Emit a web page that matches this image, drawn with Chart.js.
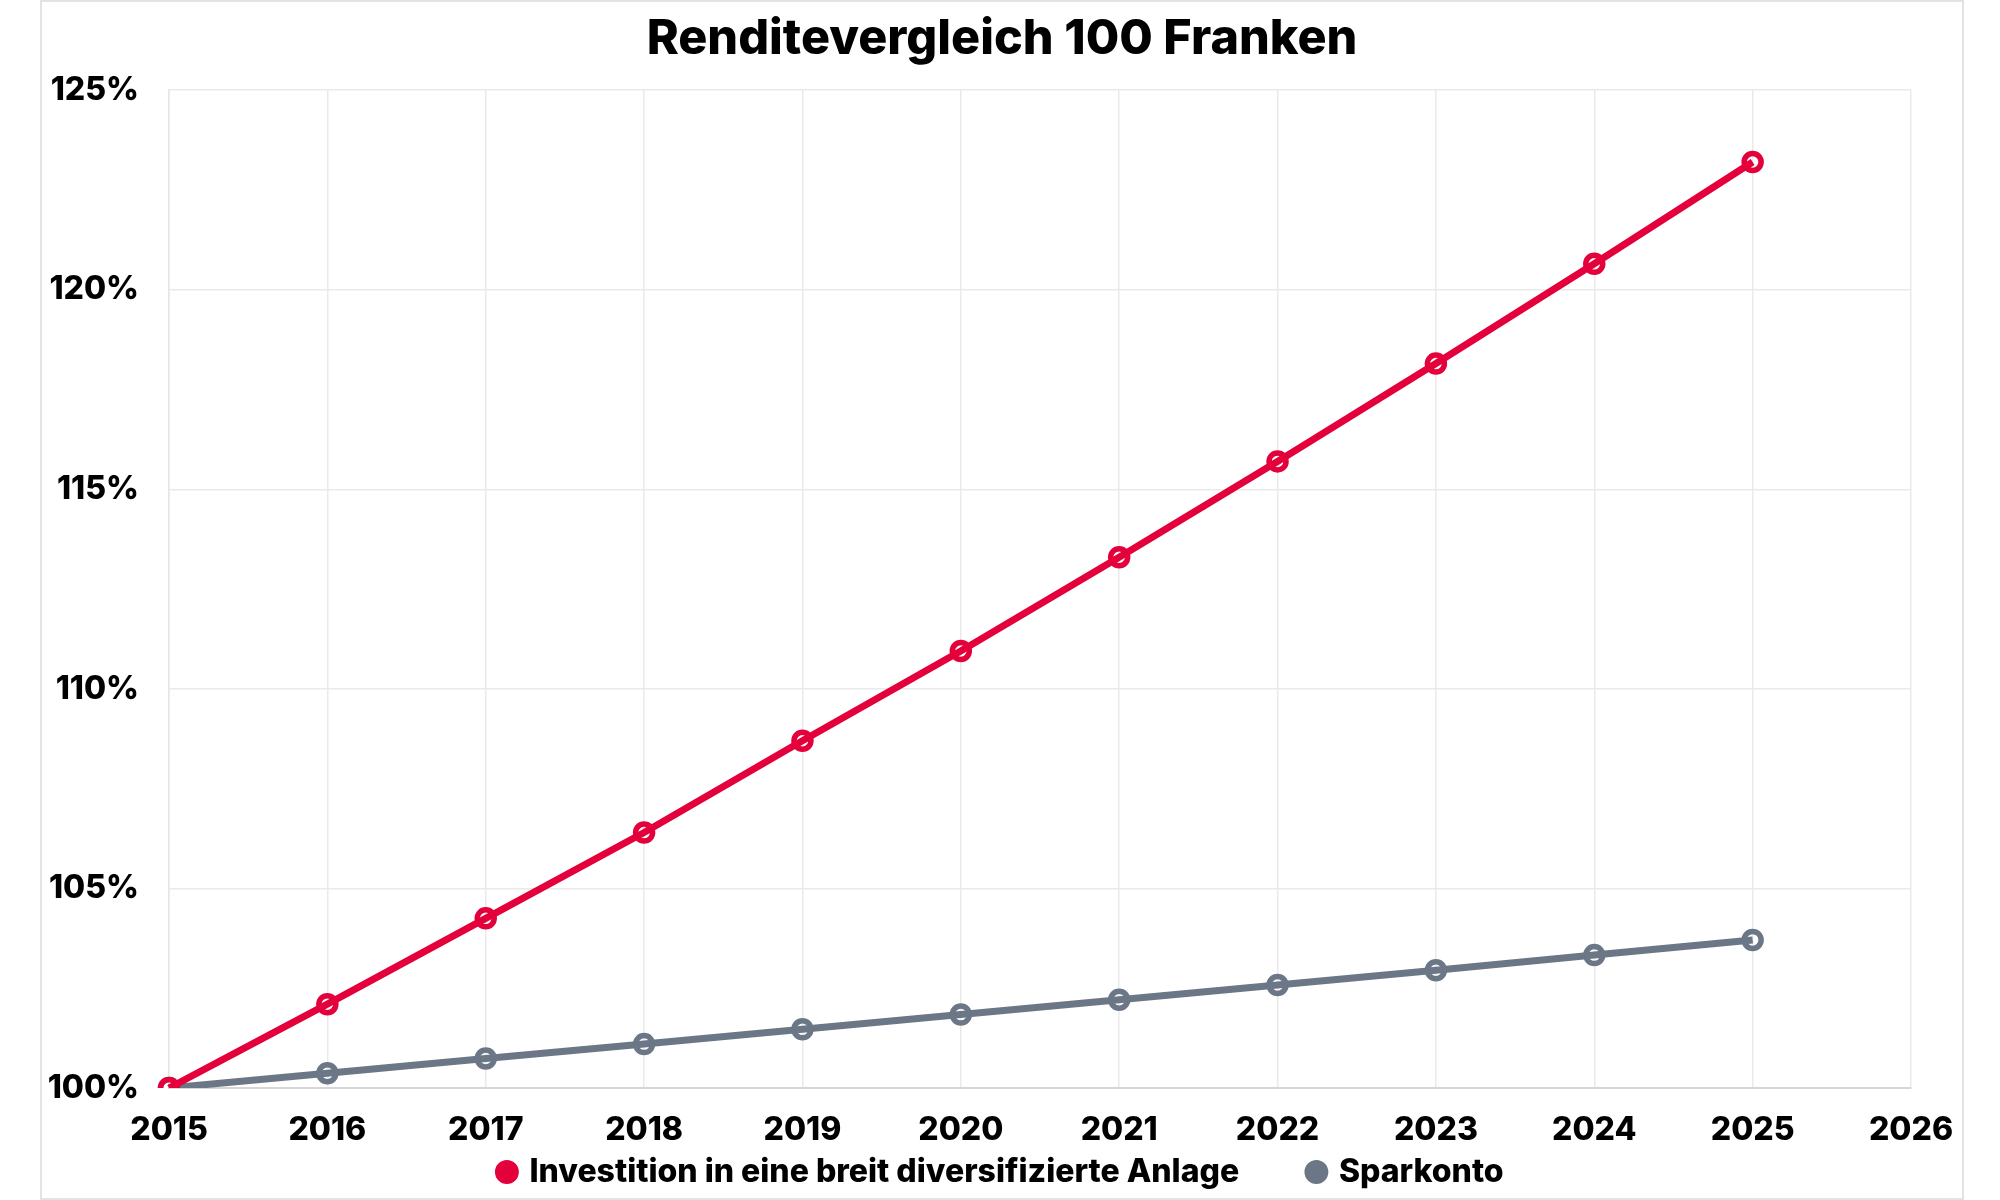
<!DOCTYPE html>
<html>
<head>
<meta charset="utf-8">
<script src="https://cdn.jsdelivr.net/npm/chart.js@4.4.1/dist/chart.umd.min.js"></script>
<style>
    html, body { margin: 0; padding: 0; background: #fff; }
    #frame {
        position: absolute; left: 40px; top: 0px;
        width: 1920px; height: 1196px;
        border: 2px solid #e3e3e3;
    }
    #chart { display: block; }
</style>
</head>
<body>
<div id="frame"><canvas id="chart" width="1920" height="1196"></canvas></div>
<script>
// Chart data
const years = ['2015', '2016', '2017', '2018', '2019', '2020', '2021', '2022', '2023', '2024', '2025', '2026'];
const investValues = [100, 102.1, 104.25, 106.4, 108.7, 110.95, 113.3, 115.7, 118.15, 120.65, 123.2];
const savingsValues = [100, 100.37, 100.74, 101.1, 101.47, 101.84, 102.21, 102.58, 102.95, 103.33, 103.71];
const seriesNames = ['Investition in eine breit diversifizierte Anlage', 'Sparkonto'];
const yTicks = { min: 100, max: 125, step: 5 };

const RED = '#e4003b';
const GRAY = '#6b7786';
const FONT = 'Inter, "Liberation Sans", sans-serif';

function makeDataset(label, values, color) {
    return {
        label: label,
        data: values,
        borderColor: color,
        backgroundColor: color,
        borderWidth: 7,
        pointRadius: 8.5,
        pointBorderWidth: 5.5,
        pointBackgroundColor: 'rgba(0,0,0,0)',
        pointBorderColor: color,
        tension: 0
    };
}

const ctx = document.getElementById('chart').getContext('2d');
new Chart(ctx, {
    type: 'line',
    data: {
        labels: years,
        datasets: [
            makeDataset(seriesNames[0], investValues, RED),
            makeDataset(seriesNames[1], savingsValues, GRAY)
        ]
    },
    options: {
        responsive: false,
        animation: false,
        layout: { padding: { left: 0, right: 0, top: 0, bottom: 0 } },
        plugins: {
            title: {
                display: true,
                text: 'Renditevergleich 100 Franken',
                color: '#000',
                font: { family: FONT, size: 48.5, weight: 800 },
                padding: { top: 8, bottom: 22 }
            },
            legend: {
                position: 'bottom',
                labels: {
                    usePointStyle: true,
                    pointStyle: 'circle',
                    boxWidth: 13,
                    boxHeight: 13,
                    padding: 2,
                    color: '#000',
                    font: { family: FONT, size: 32, weight: 800 },
                    generateLabels: (chart) => {
                        const items = Chart.defaults.plugins.legend.labels.generateLabels(chart);
                        items.forEach(it => { it.fillStyle = it.strokeStyle; });
                        // wider gap after the first entry
                        items[0].text = items[0].text + '\u2003\u2003\u2009';
                        return items;
                    }
                }
            },
            tooltip: { enabled: false }
        },
        scales: {
            x: {
                offset: false,
                grid: { color: '#eaeaea', lineWidth: 1.5, drawTicks: false },
                border: { color: '#d6d6d6', width: 2 },
                ticks: {
                    color: '#000',
                    padding: 25,
                    maxRotation: 0,
                    autoSkip: false,
                    font: { family: FONT, size: 32, weight: 800, lineHeight: 1.1 }
                },
                afterFit: (scale) => {
                    scale.height = 66;
                    scale.paddingRight = 51;
                }
            },
            y: {
                min: yTicks.min,
                max: yTicks.max,
                grid: { color: '#eaeaea', lineWidth: 1.5, drawTicks: false },
                border: { color: '#e6e6e6', width: 1.5 },
                ticks: {
                    stepSize: yTicks.step,
                    color: '#000',
                    padding: 30,
                    font: { family: FONT, size: 32, weight: 800 },
                    callback: (v) => v + '%'
                },
                afterFit: (scale) => { scale.width = 127; }
            }
        }
    }
});
</script>
</body>
</html>
